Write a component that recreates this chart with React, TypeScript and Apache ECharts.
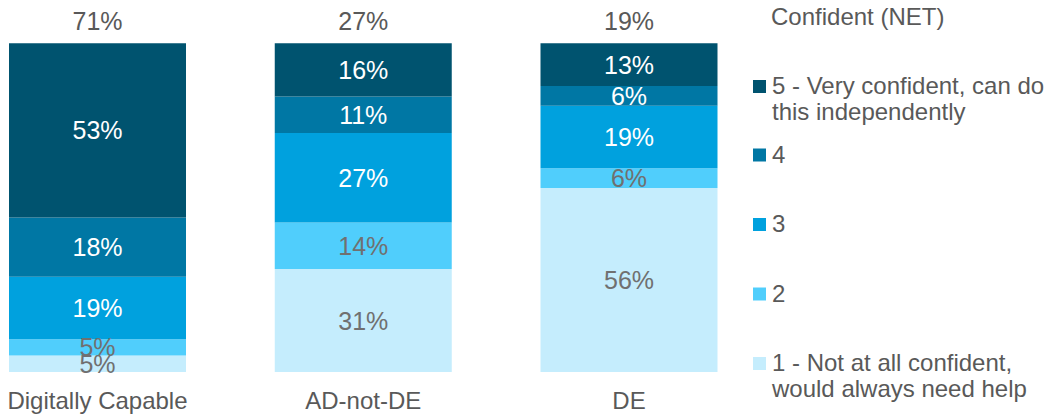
import React, { useEffect, useRef } from "react";
import * as echarts from "echarts";

const categories = ["Digitally Capable", "AD-not-DE", "DE"];
const levelNames = [
  "5 - Very confident, can do\nthis independently",
  "4",
  "3",
  "2",
  "1 - Not at all confident,\nwould always need help",
];
const level5 = [53, 16, 13];
const level4 = [18, 11, 6];
const level3 = [19, 27, 19];
const level2 = [5, 14, 6];
const level1 = [5, 31, 56];
const netConfident = [71, 27, 19];
const levelColors = ["#00536f", "#0077a4", "#00a1de", "#50cefc", "#c5edfd"];
const labelColors = ["#ffffff", "#ffffff", "#ffffff", "#707070", "#707070"];
const legendTitle = "Confident (NET)";

const FONT = "'Liberation Sans', Arial, sans-serif";

export default function App() {
  const ref = useRef<HTMLDivElement>(null);
  useEffect(() => {
    document.body.style.margin = "0";
    if (!ref.current) return;
    const chart = echarts.init(ref.current, undefined, { renderer: "svg" });
    const levels = [level5, level4, level3, level2, level1];
    const totals = categories.map((_, i) => levels.reduce((s, l) => s + l[i], 0));
    // stack from bottom (level 1) to top (level 5)
    const order = [4, 3, 2, 1, 0];
    const series: any[] = order.map((li) => ({
      name: levelNames[li],
      type: "bar",
      stack: "total",
      barWidth: 177,
      clip: false,
      data: levels[li].map((v, i) => (v / totals[i]) * 100),
      itemStyle: { color: levelColors[li] },
      label: {
        show: true,
        position: "inside",
        color: labelColors[li],
        fontSize: 25,
        fontFamily: FONT,
        formatter: (p: any) => `${levels[li][p.dataIndex]}%`,
      },
      silent: true,
    }));
    series.push({
      name: "net",
      type: "bar",
      stack: "total",
      barWidth: 177,
      clip: false,
      data: netConfident.map(() => 0),
      itemStyle: { color: "transparent" },
      label: {
        show: true,
        position: "top",
        distance: 10,
        color: "#595959",
        fontSize: 25,
        fontFamily: FONT,
        formatter: (p: any) => `${netConfident[p.dataIndex]}%`,
      },
      silent: true,
    });

    const markerCenters = [86.5, 155, 224.5, 294, 363.5];
    const lineH = 26;
    const graphic: any[] = [
      {
        type: "text",
        x: 771,
        y: 4,
        style: {
          text: legendTitle,
          fill: "#595959",
          font: `24px ${FONT}`,
          verticalAlign: "top",
        },
      },
    ];
    levelNames.forEach((name, i) => {
      const cy = markerCenters[i];
      graphic.push({
        type: "rect",
        shape: { x: 753, y: cy - 6.5, width: 13, height: 13 },
        style: { fill: levelColors[i] },
      });
      graphic.push({
        type: "text",
        x: 772,
        y: cy - lineH / 2 - 1,
        style: {
          text: name,
          fill: "#595959",
          font: `24px ${FONT}`,
          lineHeight: lineH,
          verticalAlign: "top",
        },
      });
    });

    chart.setOption({
      animation: false,
      textStyle: { fontFamily: FONT },
      grid: { left: 97.5, right: 420, top: 43.3, bottom: 45 },
      xAxis: {
        type: "category",
        data: categories,
        boundaryGap: false,
        axisLine: { show: false },
        axisTick: { show: false },
        axisLabel: { color: "#595959", fontSize: 24, margin: 16, fontFamily: FONT },
      },
      yAxis: { type: "value", min: 0, max: 100, show: false },
      series,
      graphic,
    });
    return () => chart.dispose();
  }, []);
  return <div ref={ref} style={{ width: 1049, height: 417 }} />;
}
